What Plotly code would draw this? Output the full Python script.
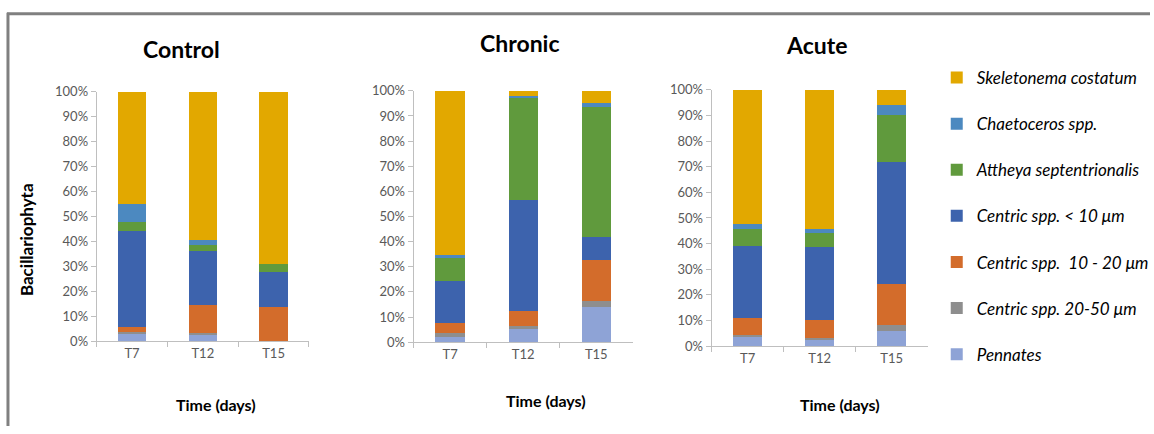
import plotly.graph_objects as go

W, H = 1154, 434

times = ["T7", "T12", "T15"]
panels = ["Control", "Chronic", "Acute"]

species = [
    "Pennates",
    "Centric spp. 20-50 μm",
    "Centric spp.  10 - 20 μm",
    "Centric spp. &lt; 10 μm",
    "Attheya septentrionalis",
    "Chaetoceros spp.",
    "Skeletonema costatum",
]
colors = ["#8EA3D6", "#8E8E8E", "#D36C2B", "#3D63AD", "#609A3D", "#4C89C0", "#E2A800"]

# values in percent, stacked bottom (Pennates) to top (Skeletonema)
control_pennates = [3.1, 2.4, 0.0]
control_c2050 = [0.7, 1.1, 0.0]
control_c1020 = [2.1, 11.2, 13.7]
control_c10 = [38.1, 21.6, 14.2]
control_attheya = [4.0, 2.3, 3.2]
control_chaeto = [7.0, 1.8, 0.0]
control_skeleton = [45.0, 59.6, 68.9]

chronic_pennates = [2.0, 5.3, 14.1]
chronic_c2050 = [1.8, 1.0, 2.3]
chronic_c1020 = [3.8, 6.3, 16.2]
chronic_c10 = [16.6, 44.0, 9.3]
chronic_attheya = [9.3, 40.6, 51.5]
chronic_chaeto = [1.0, 0.9, 1.6]
chronic_skeleton = [65.5, 1.9, 5.0]

acute_pennates = [3.8, 2.8, 5.9]
acute_c2050 = [0.6, 0.3, 2.3]
acute_c1020 = [6.5, 7.2, 15.9]
acute_c10 = [28.1, 28.2, 47.9]
acute_attheya = [6.7, 5.7, 18.2]
acute_chaeto = [2.1, 1.5, 3.8]
acute_skeleton = [52.2, 54.3, 6.0]

data = {
    "Control": [control_pennates, control_c2050, control_c1020, control_c10,
                control_attheya, control_chaeto, control_skeleton],
    "Chronic": [chronic_pennates, chronic_c2050, chronic_c1020, chronic_c10,
                chronic_attheya, chronic_chaeto, chronic_skeleton],
    "Acute": [acute_pennates, acute_c2050, acute_c1020, acute_c10,
              acute_attheya, acute_chaeto, acute_skeleton],
}

# panel pixel geometry: x_left, x_right, y_top(100%), y_bottom(0%)
geom = {
    "Control": (97, 310, 87, 346),
    "Chronic": (415, 635, 86, 347),
    "Acute": (714, 931, 85, 351),
}
title_pos = {"Control": (182, 43), "Chronic": (522, 36), "Acute": (819, 38)}
xtitle_pos = {"Control": (217, 412), "Chronic": (548, 408), "Acute": (843, 412)}

def px(x):
    return x / W

def py(y):
    return 1 - y / H

fig = go.Figure()
FONT = "Lato"
TICKCOL = "#595959"
AXCOL = "#BFBFBF"

for i, p in enumerate(panels):
    xa = "x" if i == 0 else f"x{i+1}"
    ya = "y" if i == 0 else f"y{i+1}"
    for s, name in enumerate(species):
        fig.add_trace(go.Bar(
            x=times, y=[v / 100 for v in data[p][s]],
            name=name, marker=dict(color=colors[s], line=dict(width=0)),
            xaxis=xa, yaxis=ya, showlegend=(i == 0), legendgroup=name,
            legendrank=len(species) - s,
        ))
    x0, x1, yt, yb = geom[p]
    xkey = "xaxis" if i == 0 else f"xaxis{i+1}"
    ykey = "yaxis" if i == 0 else f"yaxis{i+1}"
    fig.layout[xkey] = dict(
        domain=[px(x0), px(x1)], anchor=ya, type="category",
        range=[-0.5, 2.5], showline=True, linecolor=AXCOL, linewidth=1,
        ticks="outside", tickson="boundaries", ticklen=5, tickcolor=AXCOL,
        showgrid=False, zeroline=False,
        tickfont=dict(family=FONT, size=13, color=TICKCOL), fixedrange=True,
    )
    fig.layout[ykey] = dict(
        domain=[py(yb), py(yt)], anchor=xa, range=[0, 1],
        showline=True, linecolor=AXCOL, linewidth=1, ticks="outside",
        ticklen=5, tickcolor=AXCOL, dtick=0.1, tickformat=".0%",
        showgrid=False, zeroline=False,
        tickfont=dict(family=FONT, size=13, color=TICKCOL), fixedrange=True,
    )
    tx, ty = title_pos[p]
    fig.add_annotation(x=px(tx), y=py(ty), xref="paper", yref="paper",
                       text=f"<b>{p}</b>", showarrow=False,
                       font=dict(family=FONT, size=23, color="#000000"),
                       xanchor="center", yanchor="middle")
    ax_, ay_ = xtitle_pos[p]
    fig.add_annotation(x=px(ax_), y=py(ay_), xref="paper", yref="paper",
                       text="<b>Time (days)</b>", showarrow=False,
                       font=dict(family=FONT, size=16, color="#000000"),
                       xanchor="center", yanchor="middle")

fig.add_annotation(x=px(26), y=py(240), xref="paper", yref="paper",
                   text="<b>Bacillariophyta</b>", showarrow=False, textangle=-90,
                   font=dict(family=FONT, size=17, color="#000000"),
                   xanchor="center", yanchor="middle")

# frame lines
fig.add_shape(type="line", xref="paper", yref="paper", x0=px(7), x1=1,
              y0=py(6), y1=py(6), line=dict(color="#808080", width=3))
fig.add_shape(type="line", xref="paper", yref="paper", x0=px(8), x1=px(8),
              y0=py(5), y1=0, line=dict(color="#808080", width=3))

fig.update_layout(
    width=W, height=H, barmode="stack", bargap=0.6,
    margin=dict(l=0, r=0, t=0, b=0),
    paper_bgcolor="white", plot_bgcolor="white",
    showlegend=True,
    legend=dict(
        x=px(940), y=py(54), xanchor="left", yanchor="top",
        traceorder="grouped", tracegroupgap=21,
        font=dict(family=FONT, size=17, color="#000000", style="italic"),
        itemwidth=30, bgcolor="rgba(0,0,0,0)",
    ),
)

fig.write_html(
    "out.html",
    config={"displayModeBar": False},
    post_script="document.body.style.margin='0px';document.body.style.overflow='hidden';",
)
